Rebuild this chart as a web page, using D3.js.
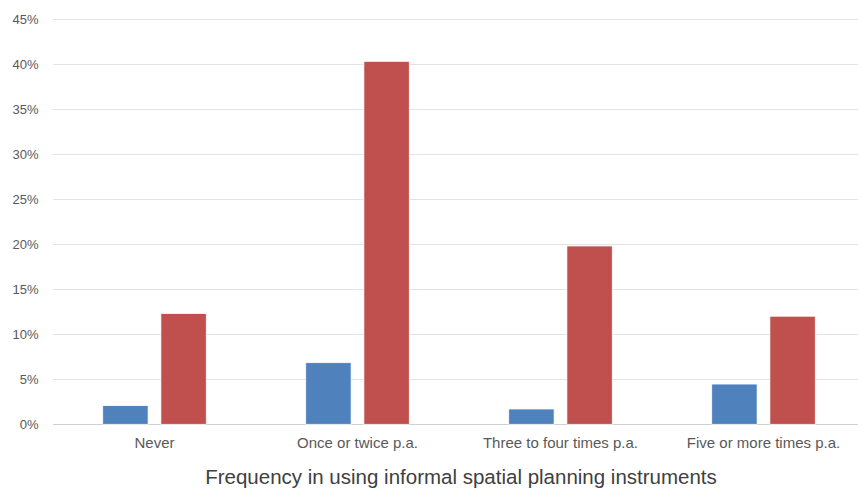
<!DOCTYPE html>
<html><head><meta charset="utf-8">
<script src="https://cdn.jsdelivr.net/npm/d3@7"></script>
<style>body{margin:0;background:#fff;overflow:hidden}svg{display:block}</style>
</head><body>
<script>
const categories = ["Never", "Once or twice p.a.", "Three to four times p.a.", "Five or more times p.a."];
const seriesNames = ["Series A", "Series B"];
const seriesA = [2.07, 6.84, 1.70, 4.47];
const seriesB = [12.3, 40.3, 19.8, 12.0];
const yTicks = [0, 5, 10, 15, 20, 25, 30, 35, 40, 45];
const colors = ["#4F81BD", "#C0504D"];
const xTitle = "Frequency in using informal spatial planning instruments";

const W = 858, H = 490;
const svg = d3.select("body").append("svg").attr("width", W).attr("height", H);
const plotL = 53, plotR = 865, plotT = 19, plotB = 424.3;

const y = d3.scaleLinear().domain([0, 45]).range([plotB, plotT]);
const x0 = d3.scaleBand().domain(categories).range([plotL, plotR]).paddingInner(0.49).paddingOuter(0.245);
const x1 = d3.scaleBand().domain(seriesNames).range([0, x0.bandwidth()]).paddingInner(0.22);

// gridlines
svg.append("g").selectAll("line").data(yTicks).join("line")
  .attr("x1", plotL).attr("x2", plotR)
  .attr("y1", d => Math.round(y(d)) + 0.5).attr("y2", d => Math.round(y(d)) + 0.5)
  .attr("stroke", d => d === 0 ? "#d0d0d0" : "#e3e3e3").attr("stroke-width", 1);

// y tick labels
svg.append("g").selectAll("text").data(yTicks).join("text")
  .attr("x", 38.5).attr("y", d => y(d)).attr("dy", "0.35em")
  .attr("text-anchor", "end")
  .attr("font-family", "'Liberation Sans', Arial, sans-serif").attr("font-size", 13)
  .attr("fill", "#595959").text(d => d + "%");

// bars
const data = categories.map((c, i) => ({ cat: c, vals: [seriesA[i], seriesB[i]] }));
const groups = svg.append("g").selectAll("g").data(data).join("g")
  .attr("transform", d => `translate(${x0(d.cat)},0)`);
groups.selectAll("rect").data(d => d.vals.map((v, j) => ({ s: seriesNames[j], v, j })))
  .join("rect")
  .attr("x", d => x1(d.s)).attr("width", x1.bandwidth())
  .attr("y", d => y(d.v)).attr("height", d => y(0) - y(d.v))
  .attr("fill", d => colors[d.j]).attr("stroke", "#fff").attr("stroke-width", 0.75);

// category labels
svg.append("g").selectAll("text").data(categories).join("text")
  .attr("x", d => x0(d) + x0.bandwidth() / 2).attr("y", 448)
  .attr("text-anchor", "middle")
  .attr("font-family", "'Liberation Sans', Arial, sans-serif").attr("font-size", 15)
  .attr("fill", "#595959").text(d => d);

// axis title
svg.append("text").attr("x", (plotL + plotR) / 2 + 2).attr("y", 484)
  .attr("text-anchor", "middle")
  .attr("font-family", "'Liberation Sans', Arial, sans-serif").attr("font-size", 20.5)
  .attr("fill", "#404040").text(xTitle);
</script>
</body></html>
